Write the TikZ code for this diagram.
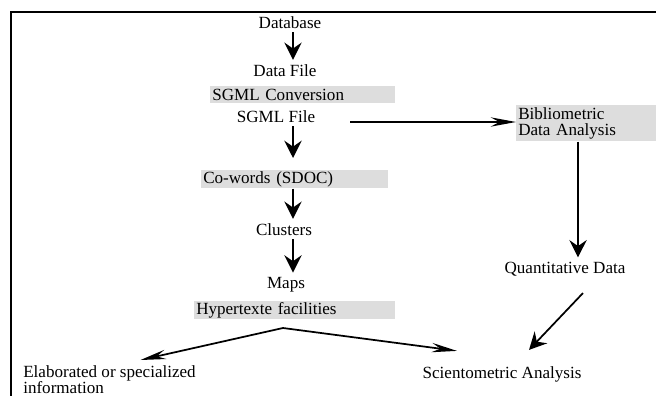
\documentclass[tikz,border=0pt]{standalone}
\usepackage{fontspec}
\setmainfont{Liberation Serif}
\usetikzlibrary{arrows.meta}
\definecolor{boxgray}{RGB}{221,221,221}

\begin{document}
\begin{tikzpicture}[x=0.75pt,y=-0.75pt,
  every node/.style={font=\fontsize{12.8}{12.5}\selectfont, inner sep=3pt},
  txt/.style={anchor=base},
  shaded/.style={fill=boxgray, anchor=north west, align=left, inner xsep=1.5pt, inner ysep=0pt},
  flow/.style={line width=1.3pt, -{Stealth[length=13pt,width=13pt,inset=4.5pt]}},
  longtip/.style={line width=1.3pt, -{Stealth[length=19pt,width=7pt,inset=6.5pt]}},
  boxedge/.style={line width=1.4pt}]
\useasboundingbox (0,0) rectangle (656,396);
\draw[boxedge] (656,12) -- (11,12) -- (11,396);
% main column
\coordinate (spine) at (293,0);
\coordinate (rspine) at (578,0);
\node[txt] (database) at (290,28) {Database};
\node[txt] (datafile) at (285,76) {Data File};
\node[shaded, text width=135.75pt, minimum height=12.75pt] (sgmlconv) at (210,86) {SGML Conversion};
\node[txt] (sgmlfile) at (276,122) {SGML File};
\node[shaded, text width=137.25pt, minimum height=13.5pt] (cowords) at (201,170) {Co-words (SDOC)};
\node[txt] (clusters) at (284,235) {Clusters};
\node[txt] (maps) at (286,288) {Maps};
\node[shaded, text width=147.75pt, minimum height=13.5pt] (hyper) at (194,301) {Hypertexte facilities};
\coordinate (apex) at (283,328);
% right column
\node[shaded, text width=102pt, minimum height=27pt] (bibl) at (516,105) {Bibliometric\\Data Analysis};
\node[txt] (quant) at (565,273) {Quantitative Data};
\node[txt] (scient) at (502,378) {Scientometric Analysis};
\node[align=left, anchor=north west] (elab) at (19,361) {Elaborated or specialized\\information};
% connectors
\draw[flow] (database.south -| spine) -- (datafile.north -| spine);
\draw[longtip, shorten <=23pt] (sgmlfile.base east) -- (sgmlfile.base east -| bibl.west);
\draw[flow, shorten >=9pt] (sgmlfile.south -| spine) -- (cowords.north -| spine);
\draw[flow] (cowords.south -| spine) -- (clusters.north -| spine);
\draw[flow] (clusters.south -| spine) -- (maps.north -| spine);
\draw[longtip] (apex) -- ([shift={(31,-1)}]elab.north);
\draw[longtip] (apex) -- ([shift={(-45,-11)}]scient.north);
\draw[flow] (bibl.south -| rspine) -- (quant.north -| rspine);
\draw[flow] ([shift={(18,13)}]quant.south) -- ([shift={(27,-12)}]scient.north);
\end{tikzpicture}
\end{document}
